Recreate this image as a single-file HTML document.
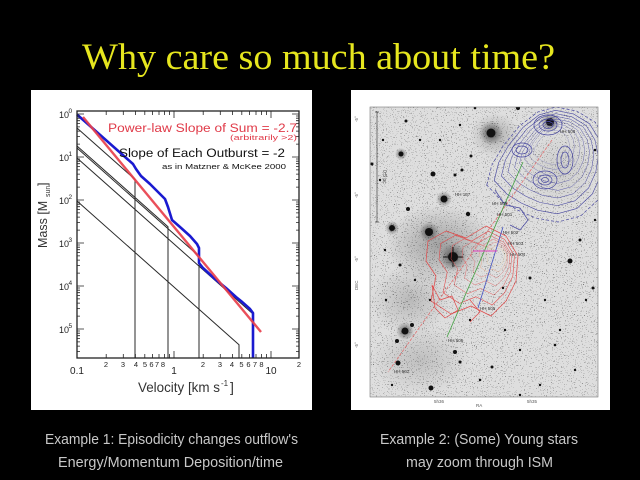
<!DOCTYPE html>
<html><head><meta charset="utf-8"><style>
html,body{margin:0;padding:0;background:#000;width:640px;height:480px;overflow:hidden}
svg{display:block}
</style></head><body>
<svg width="640" height="480" viewBox="0 0 640 480" xmlns="http://www.w3.org/2000/svg">
<defs>
<radialGradient id="halo"><stop offset="0" stop-color="#000" stop-opacity="0.55"/><stop offset="1" stop-color="#000" stop-opacity="0"/></radialGradient>
<radialGradient id="haze"><stop offset="0" stop-color="#000" stop-opacity="0.28"/><stop offset="1" stop-color="#000" stop-opacity="0"/></radialGradient>
<filter id="spk" x="0" y="0" width="100%" height="100%">
<feTurbulence type="fractalNoise" baseFrequency="0.9" numOctaves="1" seed="5"/>
<feColorMatrix type="matrix" values="0 0 0 0 0  0 0 0 0 0  0 0 0 0 0  -22 0 0 0 7.6"/>
</filter>
<clipPath id="imgclip"><rect x="370" y="107" width="228" height="290"/></clipPath>
<path id="bc" d="M-62,25 L-57,5 L-46,-14 L-30,-34 L-12,-48 L6,-53 L26,-49 L44,-38 L55,-20 L59,0 L56,20 L47,40 L30,56 L8,62 L-14,58 L-32,50 L-48,40 Z"/>
<path id="rc" d="M-48,-25 L-30,-35 L-10,-28 L10,-40 L30,-30 L42,-10 L40,15 L30,35 L15,50 L-5,40 L-25,48 L-45,35 L-40,10 L-50,-5 Z"/>
</defs>

<rect width="640" height="480" fill="#000"/>

<!-- Title -->
<text x="82" y="69" font-family="Liberation Serif, serif" font-size="37" fill="#e6e61e" textLength="473" lengthAdjust="spacingAndGlyphs">Why care so much about time?</text>

<!-- LEFT PANEL -->
<rect x="31" y="90" width="281" height="320" fill="#fff"/>

<g fill="none" stroke-linejoin="round">
<g stroke="#2a2a2a" stroke-width="1">
<polyline points="77,128 135,179.4 135,358"/>
<polyline points="77,146 168,226.7 168,358"/>
<polyline points="77,148 199,256.2 199,358"/>
<polyline points="77,158 253,314 253,358"/>
<polyline points="77,201 239,344.7 239,358"/>
</g>
<polyline stroke="#1a1ad0" stroke-width="2.6" points="77,114.5 133,164 136,169 141,176 150,184 158,192 165,199 168,207 172,220 180,227 190,236 197,244 199,248 199,263 203,268 215,279 226,288 236,297 241,301 250,309 253,313 253,358"/>
<line x1="83" y1="117" x2="261" y2="332" stroke="#e8404c" stroke-width="2.4" stroke-opacity="0.92"/>
</g>

<rect x="77" y="111" width="222" height="247" fill="none" stroke="#222" stroke-width="1.3"/>
<g stroke="#222" stroke-width="0.8" fill="none">
<path d="M77 114h7M77 157h7M77 200h7M77 243h7M77 286h7M77 329h7 M299 114h-7M299 157h-7M299 200h-7M299 243h-7M299 286h-7M299 329h-7"/>
<path d="M77 116h3M77 118.2h3M77 120.7h3M77 123.5h3M77 126.9h3M77 131.1h3M77 136.5h3M77 144.1h3
M77 159h3M77 161.2h3M77 163.7h3M77 166.5h3M77 169.9h3M77 174.1h3M77 179.5h3M77 187.1h3
M77 202h3M77 204.2h3M77 206.7h3M77 209.5h3M77 212.9h3M77 217.1h3M77 222.5h3M77 230.1h3
M77 245h3M77 247.2h3M77 249.7h3M77 252.5h3M77 255.9h3M77 260.1h3M77 265.5h3M77 273.1h3
M77 288h3M77 290.2h3M77 292.7h3M77 295.5h3M77 298.9h3M77 303.1h3M77 308.5h3M77 316.1h3
M77 331h3M77 333.2h3M77 335.7h3M77 338.5h3M77 341.9h3M77 346.1h3M77 351.5h3"/>
<path d="M299 116h-3M299 118.2h-3M299 120.7h-3M299 123.5h-3M299 126.9h-3M299 131.1h-3M299 136.5h-3M299 144.1h-3
M299 159h-3M299 161.2h-3M299 163.7h-3M299 166.5h-3M299 169.9h-3M299 174.1h-3M299 179.5h-3M299 187.1h-3
M299 202h-3M299 204.2h-3M299 206.7h-3M299 209.5h-3M299 212.9h-3M299 217.1h-3M299 222.5h-3M299 230.1h-3
M299 245h-3M299 247.2h-3M299 249.7h-3M299 252.5h-3M299 255.9h-3M299 260.1h-3M299 265.5h-3M299 273.1h-3
M299 288h-3M299 290.2h-3M299 292.7h-3M299 295.5h-3M299 298.9h-3M299 303.1h-3M299 308.5h-3M299 316.1h-3
M299 331h-3M299 333.2h-3M299 335.7h-3M299 338.5h-3M299 341.9h-3M299 346.1h-3M299 351.5h-3"/>
<path d="M174 358v-7M271 358v-7M174 111v7M271 111v7"/>
<path d="M106.2 358v-4M123.3 358v-4M135.4 358v-4M144.8 358v-4M152.5 358v-4M159 358v-4M164.6 358v-4M169.6 358v-4
M203.2 358v-4M220.3 358v-4M232.4 358v-4M241.8 358v-4M249.5 358v-4M256 358v-4M261.6 358v-4M266.6 358v-4
M106.2 111v4M123.3 111v4M135.4 111v4M144.8 111v4M152.5 111v4M159 111v4M164.6 111v4M169.6 111v4
M203.2 111v4M220.3 111v4M232.4 111v4M241.8 111v4M249.5 111v4M256 111v4M261.6 111v4M266.6 111v4"/>
</g>

<g font-family="Liberation Sans, sans-serif" fill="#222">
<g font-size="9">
<text x="59" y="118">10</text><text x="59" y="161">10</text><text x="59" y="204">10</text>
<text x="59" y="247">10</text><text x="59" y="290">10</text><text x="59" y="333">10</text>
</g>
<g font-size="6.5">
<text x="68.5" y="113">0</text><text x="68.5" y="156">1</text><text x="68.5" y="199">2</text>
<text x="68.5" y="242">3</text><text x="68.5" y="285">4</text><text x="68.5" y="328">5</text>
</g>
<g font-size="10" text-anchor="middle">
<text x="77" y="374">0.1</text><text x="174" y="374">1</text><text x="271" y="374">10</text>
</g>
<g font-size="7.5" text-anchor="middle">
<text x="106" y="367">2</text><text x="123" y="367">3</text><text x="136" y="367">4</text><text x="145" y="367">5</text><text x="151.5" y="367">6</text><text x="157" y="367">7</text><text x="163" y="367">8</text>
<text x="203" y="367">2</text><text x="220" y="367">3</text><text x="232" y="367">4</text><text x="241.5" y="367">5</text><text x="248.5" y="367">6</text><text x="255" y="367">7</text><text x="261.5" y="367">8</text>
<text x="299" y="367">2</text>
</g>
</g>

<g font-family="Liberation Sans, sans-serif" fill="#333">
<text x="138" y="392" font-size="14" textLength="82" lengthAdjust="spacingAndGlyphs">Velocity [km s</text>
<text x="221" y="386" font-size="8">-1</text>
<text x="230" y="392" font-size="14">]</text>
</g>
<g transform="translate(47 248) rotate(-90)" font-family="Liberation Sans, sans-serif" fill="#333">
<text x="0" y="0" font-size="12.5">Mass [M</text>
<text x="51" y="3" font-size="7">sun</text>
<text x="62" y="0" font-size="12.5">]</text>
</g>

<g font-family="Liberation Sans, sans-serif">
<text x="108" y="132" font-size="12.3" fill="#e03a48" textLength="189" lengthAdjust="spacingAndGlyphs">Power-law Slope of Sum = -2.7</text>
<text x="230" y="140" font-size="7.5" fill="#e03a48" textLength="67" lengthAdjust="spacingAndGlyphs">(arbitrarily &gt;2)</text>
<text x="119" y="157" font-size="12.3" fill="#111" textLength="166" lengthAdjust="spacingAndGlyphs">Slope of Each Outburst = -2</text>
<text x="162" y="169" font-size="7.5" fill="#111" textLength="124" lengthAdjust="spacingAndGlyphs">as in Matzner &amp; McKee 2000</text>
</g>

<!-- RIGHT PANEL -->
<rect x="351" y="90" width="259" height="320" fill="#fff"/>
<rect x="370" y="107" width="228" height="290" fill="#dedede"/>
<g clip-path="url(#imgclip)">
<ellipse cx="440" cy="245" rx="55" ry="40" fill="url(#haze)"/>
<ellipse cx="410" cy="300" rx="40" ry="35" fill="url(#haze)" opacity="0.6"/>
<ellipse cx="420" cy="360" rx="50" ry="35" fill="url(#haze)" opacity="0.5"/>
<ellipse cx="495" cy="135" rx="25" ry="22" fill="url(#haze)" opacity="0.8"/>
<ellipse cx="560" cy="170" rx="40" ry="40" fill="url(#haze)" opacity="0.3"/>
<rect x="370" y="107" width="228" height="290" fill="#000" filter="url(#spk)" opacity="0.45"/>
<g fill="url(#halo)">
<circle cx="491" cy="133" r="12"/><circle cx="550" cy="122" r="10"/><circle cx="453" cy="257" r="14"/>
<circle cx="429" cy="232" r="10"/><circle cx="444" cy="199" r="8"/><circle cx="405" cy="331" r="9"/>
<circle cx="392" cy="228" r="7"/><circle cx="401" cy="154" r="6"/>
</g>
<g fill="#111">
<circle cx="491" cy="133" r="4.5"/><circle cx="550" cy="122" r="4"/><circle cx="401" cy="154" r="2.5"/>
<circle cx="433" cy="174" r="2.5"/><circle cx="444" cy="199" r="3.5"/><circle cx="408" cy="209" r="2"/>
<circle cx="468" cy="214" r="2.2"/><circle cx="392" cy="228" r="3"/><circle cx="429" cy="232" r="4"/>
<circle cx="455" cy="175" r="1.5"/><circle cx="518" cy="108" r="2"/><circle cx="406" cy="121" r="1.5"/>
<circle cx="462" cy="170" r="1.5"/><circle cx="471" cy="156" r="1.5"/><circle cx="453" cy="257" r="5"/>
<circle cx="570" cy="261" r="2.5"/><circle cx="405" cy="331" r="3.5"/><circle cx="412" cy="325" r="2"/>
<circle cx="397" cy="341" r="2"/><circle cx="398" cy="363" r="2.5"/><circle cx="431" cy="388" r="2.5"/>
<circle cx="455" cy="352" r="2"/><circle cx="460" cy="362" r="1.5"/><circle cx="530" cy="278" r="1.5"/>
<circle cx="593" cy="288" r="1.5"/><circle cx="492" cy="367" r="1.5"/><circle cx="383" cy="140" r="1.2"/>
<circle cx="420" cy="140" r="1.2"/><circle cx="380" cy="180" r="1.2"/><circle cx="586" cy="300" r="1.2"/>
<circle cx="560" cy="330" r="1.2"/><circle cx="520" cy="350" r="1.2"/><circle cx="575" cy="370" r="1.2"/>
<circle cx="540" cy="385" r="1.2"/><circle cx="480" cy="380" r="1.2"/><circle cx="386" cy="300" r="1.2"/>
<circle cx="415" cy="280" r="1.2"/><circle cx="430" cy="300" r="1.2"/><circle cx="595" cy="220" r="1.2"/>
<circle cx="580" cy="240" r="1.5"/><circle cx="470" cy="320" r="1.2"/><circle cx="505" cy="330" r="1.2"/>
<circle cx="545" cy="300" r="1.2"/><circle cx="440" cy="140" r="1.2"/><circle cx="460" cy="125" r="1.2"/>
<circle cx="385" cy="250" r="1.2"/><circle cx="400" cy="265" r="1.5"/><circle cx="392" cy="385" r="1.2"/>
<circle cx="520" cy="395" r="1.2"/><circle cx="372" cy="164" r="1.5"/><circle cx="475" cy="108" r="1.3"/>
<circle cx="595" cy="150" r="1.3"/><circle cx="555" cy="345" r="1.3"/><circle cx="503" cy="288" r="1.2"/>
</g>
<path d="M453 247v20M443 257h20" stroke="#111" stroke-width="1"/>
<g fill="none" stroke="#4848a0" stroke-width="0.7" stroke-linejoin="round">
<use href="#bc" transform="translate(550 160) scale(1.02 1.0)" stroke-dasharray="3 2" vector-effect="non-scaling-stroke"/>
<use href="#bc" transform="translate(550 158) scale(0.9)" vector-effect="non-scaling-stroke"/>
<use href="#bc" transform="translate(551 156) scale(0.8)" vector-effect="non-scaling-stroke"/>
<use href="#bc" transform="translate(552 154) scale(0.71)" vector-effect="non-scaling-stroke"/>
<use href="#bc" transform="translate(553 152) scale(0.62)" vector-effect="non-scaling-stroke"/>
<use href="#bc" transform="translate(553 150) scale(0.54)" vector-effect="non-scaling-stroke"/>
<use href="#bc" transform="translate(553 148) scale(0.46)" vector-effect="non-scaling-stroke"/>
<use href="#bc" transform="translate(552 146) scale(0.38)" vector-effect="non-scaling-stroke"/>
<use href="#bc" transform="translate(552 146) scale(0.3)" vector-effect="non-scaling-stroke"/>
<ellipse cx="548" cy="125" rx="14" ry="10"/><ellipse cx="548" cy="125" rx="9" ry="6"/><ellipse cx="548" cy="125" rx="5" ry="3.5"/>
<ellipse cx="522" cy="150" rx="10" ry="7"/><ellipse cx="522" cy="150" rx="6" ry="4"/>
<ellipse cx="545" cy="180" rx="12" ry="9"/><ellipse cx="545" cy="180" rx="7" ry="5"/><ellipse cx="545" cy="180" rx="3.5" ry="2.5"/>
<ellipse cx="565" cy="160" rx="8" ry="14"/><ellipse cx="565" cy="160" rx="4" ry="8"/>
<path d="M495 190 L505 205 L520 208 L528 220 L520 230 L510 225"/>
</g>
<g fill="none" stroke="#e04848" stroke-width="0.7" stroke-linejoin="round">
<use href="#rc" transform="translate(476 266)" vector-effect="non-scaling-stroke"/>
<use href="#rc" transform="translate(480 264) scale(0.82)" vector-effect="non-scaling-stroke"/>
<use href="#rc" transform="translate(484 262) scale(0.66)" vector-effect="non-scaling-stroke"/>
<use href="#rc" transform="translate(488 260) scale(0.52)" vector-effect="non-scaling-stroke"/>
<use href="#rc" transform="translate(491 258) scale(0.4)" vector-effect="non-scaling-stroke"/>
<use href="#rc" transform="translate(494 257) scale(0.3)" stroke="#f07030" vector-effect="non-scaling-stroke"/>
<use href="#rc" transform="translate(496 256) scale(0.2)" stroke="#f0a030" vector-effect="non-scaling-stroke"/>
<path d="M432 285 L440 300 L452 296 L458 310 L445 318 L435 308 Z"/>
<path d="M470 300 L480 312 L470 322"/>
</g>
<line x1="552" y1="140" x2="388" y2="372" stroke="#e07070" stroke-width="0.8" stroke-dasharray="3 1.5"/>
<line x1="523" y1="162" x2="447" y2="337" stroke="#40a040" stroke-width="0.8"/>
<line x1="503" y1="227" x2="478" y2="308" stroke="#4050c0" stroke-width="0.8"/>
<line x1="473" y1="251" x2="497" y2="251" stroke="#e040c0" stroke-width="1"/>
<g font-family="Liberation Sans, sans-serif" font-size="4.5" fill="#333">
<text x="455" y="196">HH 167</text><text x="497" y="216">HH 501</text>
<text x="503" y="234">HH 502</text><text x="508" y="245">HH 503</text><text x="510" y="256">HH 504</text>
<text x="480" y="310">HH 505</text><text x="448" y="342">HH 506</text><text x="394" y="373">HH 507</text>
<text x="560" y="133">HH 508</text><text x="492" y="205">HH 509</text>
</g>
</g>
<rect x="370" y="107" width="228" height="290" fill="none" stroke="#777" stroke-width="0.6"/>
<path d="M377 112v110M375 112h4M375 222h4" stroke="#444" stroke-width="0.7" fill="none"/>
<text transform="translate(383 170) rotate(90)" font-family="Liberation Sans, sans-serif" font-size="5" fill="#444">0.5 pc</text>
<g font-family="Liberation Sans, sans-serif" font-size="4.5" fill="#555">
<text transform="translate(358 122) rotate(-90)">-5°</text>
<text transform="translate(358 198) rotate(-90)">-5°</text>
<text transform="translate(358 262) rotate(-90)">-5°</text>
<text transform="translate(358 348) rotate(-90)">-5°</text>
<text transform="translate(358 290) rotate(-90)">DEC</text>
<text x="434" y="403">5h36</text><text x="476" y="407">RA</text><text x="527" y="403">5h35</text>
</g>

<g font-family="Liberation Sans, sans-serif" font-size="15" fill="#c8c8c8">
<text x="45" y="444" textLength="253" lengthAdjust="spacingAndGlyphs">Example 1: Episodicity changes outflow's</text>
<text x="58" y="467" textLength="225" lengthAdjust="spacingAndGlyphs">Energy/Momentum Deposition/time</text>
<text x="380" y="444" textLength="198" lengthAdjust="spacingAndGlyphs">Example 2: (Some) Young stars</text>
<text x="406" y="467" textLength="147" lengthAdjust="spacingAndGlyphs">may zoom through ISM</text>
</g>
</svg>
</body></html>
